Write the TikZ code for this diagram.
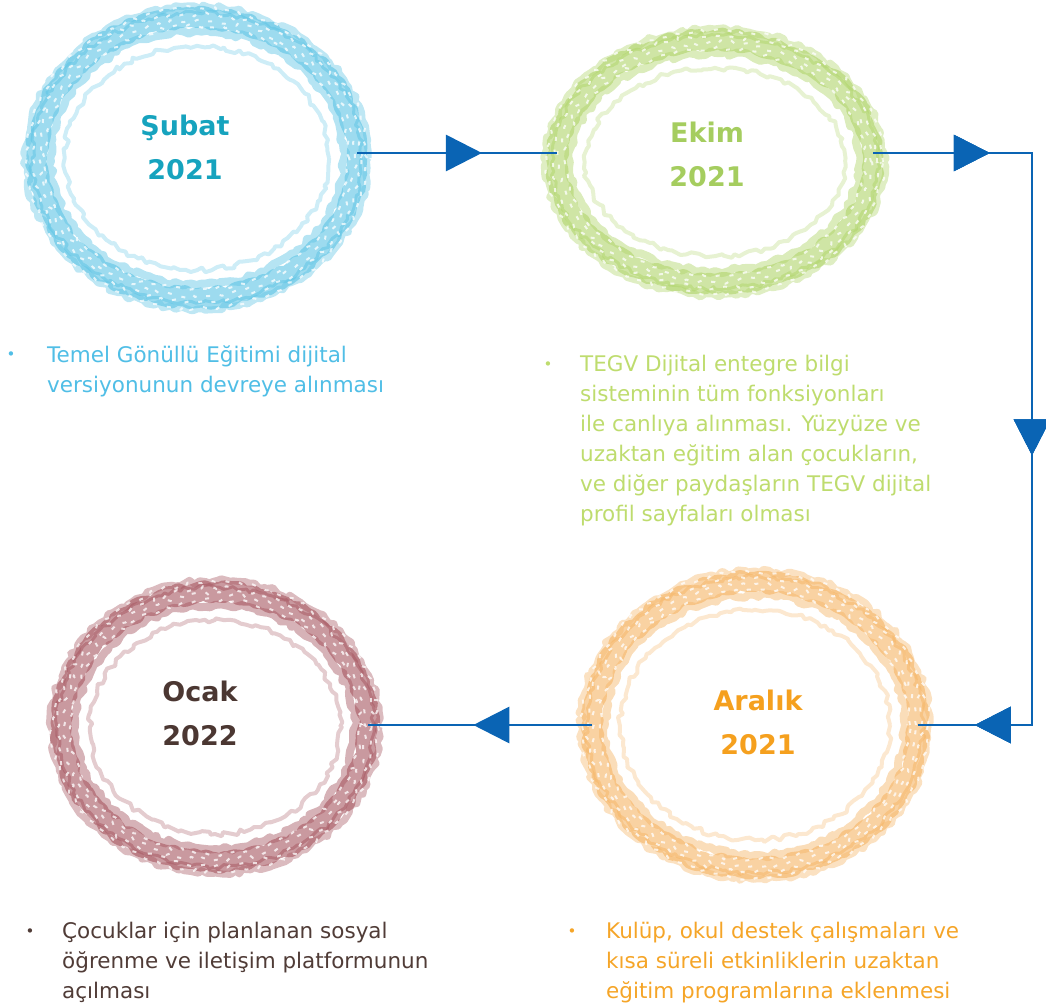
\documentclass[tikz,border=0pt]{standalone}
\usepackage{fontspec}
\setmainfont{DejaVu Sans}
\usepackage{xcolor}
\usetikzlibrary{shapes.geometric,arrows.meta,decorations.markings,decorations.pathmorphing}

\definecolor{febring}{RGB}{92,195,228}
\definecolor{febtext}{RGB}{22,163,190}
\definecolor{febnote}{RGB}{80,190,230}
\definecolor{octring}{RGB}{175,212,105}
\definecolor{octtext}{RGB}{165,205,95}
\definecolor{octnote}{RGB}{190,220,110}
\definecolor{decring}{RGB}{245,180,100}
\definecolor{dectext}{RGB}{245,160,30}
\definecolor{decnote}{RGB}{245,165,40}
\definecolor{janring}{RGB}{165,85,95}
\definecolor{jantext}{RGB}{75,55,50}
\definecolor{jannote}{RGB}{80,60,55}
\definecolor{linkblue}{RGB}{10,100,180}

\begin{document}
\begin{tikzpicture}[x=1pt, y=-1pt,
    ring/.style={ellipse, inner sep=0pt},
    chalk/.style={line join=round, decorate, decoration={random steps, segment length=5pt, amplitude=2.5pt}},
    title/.style={align=center, font=\bfseries\fontsize{27}{44}\selectfont},
    body/.style={anchor=north west, align=left, inner sep=0pt, font=\fontsize{21.5}{30}\selectfont},
    dot/.style={inner sep=0pt, font=\fontsize{15}{15}\selectfont},
    link/.style={linkblue, line width=2.8pt},
    midarrow/.style={postaction={decorate}, decoration={markings,
        mark=at position #1 with {\arrow[linkblue]{Triangle[length=36pt,width=36pt]}}}}
]
    \useasboundingbox (0,0) rectangle (1046,1008);
    \pgfmathsetseed{11}

    % Rings
    \node (feb) [ring, minimum width=320pt, minimum height=280pt] at (197,158) {};
    \node (oct) [ring, minimum width=316pt, minimum height=244pt] at (715,162) {};
    \node (dec) [ring, minimum width=326pt, minimum height=286pt] at (755,725) {};
    \node (jan) [ring, minimum width=306pt, minimum height=270pt] at (215,727) {};

    \foreach \n/\c/\rx/\ry in {feb/febring/160/140, oct/octring/158/122, dec/decring/163/143, jan/janring/153/135} {
        \foreach \dr/\w/\op in {0/20/0.6, -13/8/0.45, 11/7/0.4, -28/4/0.3, 5/3/0.5} {
            \draw[\c, opacity=\op, line width=\w pt, chalk]
                (\n.center) ellipse [x radius={(\rx+\dr)*1pt}, y radius={(\ry+\dr)*1pt}];
        }
        \foreach \dr in {-8,-2,4,10} {
            \draw[white, opacity=0.75, line width=2pt, dash pattern=on 4pt off 10pt, chalk]
                (\n.center) ellipse [x radius={(\rx+\dr)*1pt}, y radius={(\ry+\dr)*1pt}];
        }
    }

    % Titles
    \node (febtitle) [title, text=febtext] at (185,147) {Şubat\\2021};
    \node (octtitle) [title, text=octtext] at (707,154) {Ekim\\2021};
    \node (dectitle) [title, text=dectext] at (758,722) {Aralık\\2021};
    \node (jantitle) [title, text=jantext] at (200,713) {Ocak\\2022};

    % Notes
    \node (febdot) [dot, text=febnote] at (11,356) {•};
    \node (febtext) [body, text=febnote] at (47,345) {Temel Gönüllü Eğitimi dijital\\versiyonunun devreye alınması};
    \node (octdot) [dot, text=octnote] at (548,366) {•};
    \node (octtext) [body, text=octnote] at (580,355) {TEGV Dijital entegre bilgi\\sisteminin tüm fonksiyonları\\ile canlıya alınması. Yüzyüze ve\\uzaktan eğitim alan çocukların,\\ve diğer paydaşların TEGV dijital\\profil sayfaları olması};
    \node (decdot) [dot, text=decnote] at (572,933) {•};
    \node (dectext) [body, text=decnote] at (606,922) {Kulüp, okul destek çalışmaları ve\\kısa süreli etkinliklerin uzaktan\\eğitim programlarına eklenmesi};
    \node (jandot) [dot, text=jannote] at (30,933) {•};
    \node (jantext) [body, text=jannote] at (62,922) {Çocuklar için planlanan sosyal\\öğrenme ve iletişim platformunun\\açılması};

    % Connectors
    \coordinate (turn1) at (1032,153);
    \coordinate (turn2) at (1032,725);
    \draw [link, midarrow=0.625] (feb.east |- turn1) -- (oct.west |- turn1);
    \draw [link, midarrow=0.138, midarrow=0.546, midarrow=0.933] (oct.east |- turn1) -- (turn1) -- (turn2) -- (dec.east |- turn2);
    \draw [link, midarrow=0.53] (dec.west |- turn2) -- (jan.east |- turn2);
\end{tikzpicture}
\end{document}
